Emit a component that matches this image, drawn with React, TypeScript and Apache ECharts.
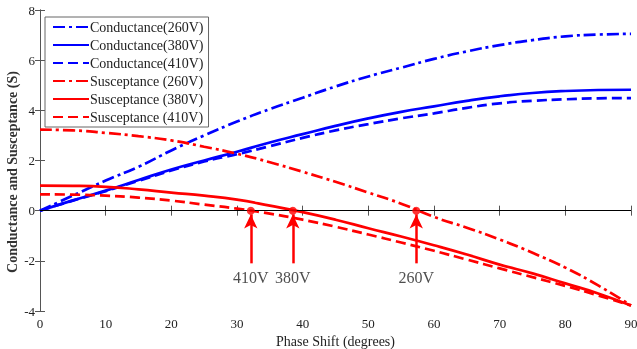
import React, { useEffect, useRef } from "react";
import * as echarts from "echarts";

const phase = [0, 5, 10, 15, 20, 25, 30, 35, 40, 45, 50, 55, 60, 65, 70, 75, 80, 85, 90];
const g260 = [0, 0.6, 1.2, 1.75, 2.4, 3.0, 3.55, 4.05, 4.5, 4.95, 5.35, 5.7, 6.05, 6.35, 6.6, 6.8, 6.95, 7.02, 7.05];
const g380 = [0, 0.41, 0.8, 1.22, 1.64, 2.0, 2.35, 2.72, 3.05, 3.38, 3.68, 3.94, 4.16, 4.38, 4.56, 4.69, 4.77, 4.81, 4.82];
const g410 = [0, 0.4, 0.78, 1.19, 1.6, 1.96, 2.25, 2.57, 2.9, 3.2, 3.45, 3.68, 3.88, 4.1, 4.28, 4.38, 4.44, 4.48, 4.49];
const b260 = [3.23, 3.2, 3.1, 2.97, 2.8, 2.55, 2.27, 1.93, 1.55, 1.15, 0.72, 0.28, -0.25, -0.68, -1.15, -1.68, -2.27, -2.98, -3.78];
const b380 = [1.0, 0.99, 0.95, 0.85, 0.72, 0.6, 0.44, 0.2, -0.06, -0.36, -0.7, -1.03, -1.38, -1.75, -2.15, -2.5, -2.9, -3.3, -3.78];
const b410 = [0.65, 0.64, 0.6, 0.52, 0.4, 0.24, 0.08, -0.12, -0.36, -0.64, -0.95, -1.27, -1.6, -1.95, -2.3, -2.65, -3.0, -3.38, -3.78];

const crossX = [32.1, 38.5, 57.3];
const crossLabels = ["410V", "380V", "260V"];
const seriesNames = [
  "Conductance(260V)",
  "Conductance(380V)",
  "Conductance(410V)",
  "Susceptance (260V)",
  "Susceptance (380V)",
  "Susceptance (410V)",
];
const xTitle = "Phase Shift (degrees)";
const yTitle = "Conductance and Susceptance (S)";

const FONT = "'Liberation Serif', 'Times New Roman', serif";
const DASHDOT = [12, 4, 3, 4];
const DASHED = [10, 5];

export default function App() {
  const ref = useRef<HTMLDivElement>(null);
  useEffect(() => {
    if (!ref.current) return;
    const chart = echarts.init(ref.current, null, { renderer: "svg" });
    const pair = (ys: number[]) => phase.map((x, i) => [x, ys[i]]);
    const mk = (name: string, ys: number[], color: string, type: any) => ({
      name,
      type: "line",
      data: pair(ys),
      smooth: true,
      symbol: "none",
      showSymbol: false,
      lineStyle: { color, width: 2.7, type },
      itemStyle: { color },
      z: 3,
    });
    const axisLine = { show: true, lineStyle: { color: "#555", width: 1 } };
    const tick = { show: true, inside: true, length: 5, lineStyle: { color: "#555" } };
    const option: any = {
      animation: false,
      textStyle: { fontFamily: FONT },
      grid: { left: 40, right: 6, top: 10, bottom: 38, outerBoundsMode: "none", containLabel: false },
      graphic: [
        {
          type: "text",
          x: 12,
          y: 172,
          rotation: Math.PI / 2,
          style: {
            text: yTitle,
            fontFamily: FONT,
            fontSize: 14,
            fontWeight: "bold",
            fill: "#333",
            textAlign: "center",
            textVerticalAlign: "middle",
          },
        },
      ],
      legend: {
        data: seriesNames,
        orient: "vertical",
        left: 45,
        top: 17,
        itemWidth: 36,
        itemHeight: 12,
        itemGap: 4,
        padding: [3, 5, 3, 7],
        backgroundColor: "#fff",
        borderColor: "#666",
        borderWidth: 1,
        itemStyle: { opacity: 0 },
        textStyle: { fontFamily: FONT, fontSize: 14, color: "#222", padding: [0, 0, 0, -4] },
      },
      xAxis: [
        {
          type: "value",
          min: 0,
          max: 90,
          interval: 10,
          axisLine,
          axisTick: tick,
          axisLabel: { fontFamily: FONT, fontSize: 13, color: "#222", margin: 6 },
          splitLine: { show: false },
          name: xTitle,
          nameLocation: "middle",
          nameGap: 22,
          nameTextStyle: { fontFamily: FONT, fontSize: 14, color: "#222" },
        },
        {
          type: "value",
          position: "top",
          min: 0,
          max: 90,
          interval: 10,
          axisLine,
          axisTick: tick,
          axisLabel: { show: false },
          splitLine: { show: false },
        },
      ],
      yAxis: [
        {
          type: "value",
          min: -4,
          max: 8,
          interval: 2,
          axisLine,
          axisTick: tick,
          axisLabel: { fontFamily: FONT, fontSize: 13, color: "#222", margin: 5 },
          splitLine: { show: false },
        },
        {
          type: "value",
          position: "right",
          min: -4,
          max: 8,
          interval: 2,
          axisLine,
          axisTick: tick,
          axisLabel: { show: false },
          splitLine: { show: false },
        },
      ],
      series: [
        mk(seriesNames[0], g260, "#0000ff", DASHDOT),
        mk(seriesNames[1], g380, "#0000ff", "solid"),
        mk(seriesNames[2], g410, "#0000ff", DASHED),
        mk(seriesNames[3], b260, "#ff0000", DASHDOT),
        mk(seriesNames[4], b380, "#ff0000", "solid"),
        mk(seriesNames[5], b410, "#ff0000", DASHED),
        {
          name: "zero",
          type: "line",
          data: [],
          markLine: {
            silent: true,
            symbol: ["none", "none"],
            label: { show: false },
            lineStyle: { color: "#000", width: 1, type: "solid" },
            data: [{ yAxis: 0 }],
          },
          z: 2,
        },
        {
          name: "cross",
          type: "scatter",
          data: crossX.map((x) => [x, 0]),
          symbol: "circle",
          symbolSize: 8,
          itemStyle: { color: "#ff0000" },
          z: 5,
          markLine: {
            silent: true,
            label: { show: false },
            lineStyle: { color: "#ff0000", width: 2.5, type: "solid" },
            data: crossX.map((x) => [
              { coord: [x, -2.1], symbol: "none" },
              { coord: [x, -0.15], symbol: "arrow", symbolSize: [10, 14] },
            ]),
          },
        },
        {
          name: "labels",
          type: "scatter",
          data: crossX.map((x, i) => [x, -2.65, crossLabels[i]]),
          symbol: "circle",
          symbolSize: 2,
          itemStyle: { color: "rgba(0,0,0,0)" },
          label: {
            show: true,
            position: "inside",
            formatter: (p: any) => p.value[2],
            fontFamily: FONT,
            fontSize: 16,
            color: "#222",
          },
          z: 5,
        },
      ],
    };
    chart.setOption(option);
    return () => chart.dispose();
  }, []);
  return (
    <div
      ref={ref}
      style={{ width: 637, height: 349, position: "fixed", left: 0, top: 0 }}
    />
  );
}
